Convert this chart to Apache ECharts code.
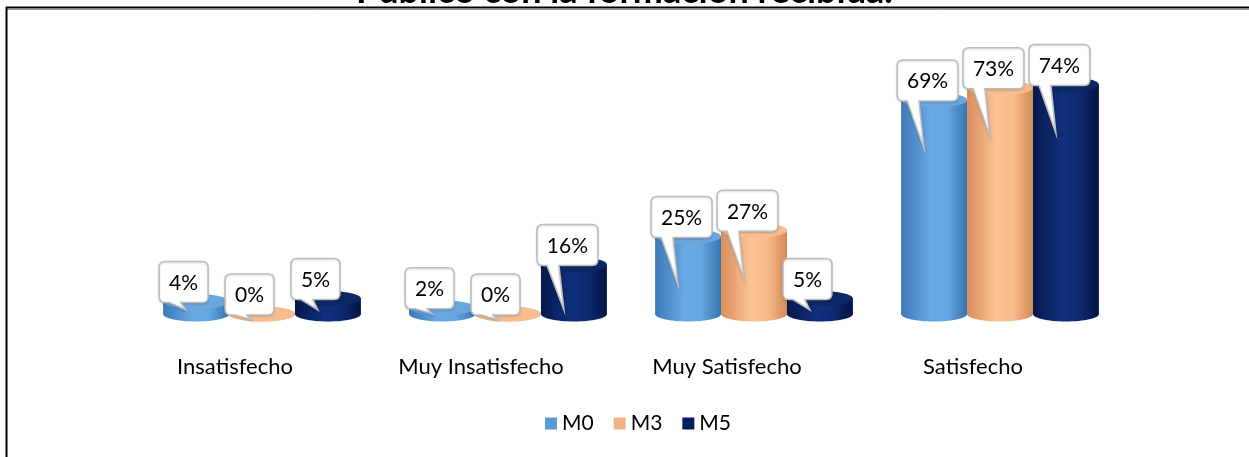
<!DOCTYPE html>
<html>
<head>
<meta charset="utf-8">
<script src="https://cdn.jsdelivr.net/npm/echarts@6/dist/echarts.min.js"></script>
<style>html,body{margin:0;padding:0;background:#fff}#c{width:1249px;height:457px}</style>
</head>
<body>
<div id="c"></div>
<script>
var titleText = 'Público con la formación recibida.';
var categories = ['Insatisfecho', 'Muy Insatisfecho', 'Muy Satisfecho', 'Satisfecho'];
var seriesNames = ['M0', 'M3', 'M5'];
var m0 = [4, 2, 25, 69];
var m3 = [0, 0, 27, 73];
var m5 = [5, 16, 5, 74];

var FONT = 'Lato, "Open Sans", sans-serif';
var palettes = [
  {legend: '#5B9BD5', top: '#6AA6DC', stops: ['#3C79B8', '#69A9E3', '#62A6E2', '#3A74B0']},
  {legend: '#F4B183', top: '#F7BD90', stops: ['#D98E5A', '#FBC396', '#F8BA8A', '#D38A58']},
  {legend: '#002060', top: '#0C2864', stops: ['#05184C', '#10307C', '#0C2A70', '#031445']}
];

var measureCtx = document.createElement('canvas').getContext('2d');
function textWidth(t, font) { measureCtx.font = font; return measureCtx.measureText(t).width; }

function calloutPath(l, t, w, h, r, b1, b2, tx, ty) {
  var R = l + w, B = t + h;
  return 'M' + (l + r) + ' ' + t + ' H' + (R - r) + ' Q' + R + ' ' + t + ' ' + R + ' ' + (t + r) +
    ' V' + (B - r) + ' Q' + R + ' ' + B + ' ' + (R - r) + ' ' + B +
    ' H' + b2 + ' L' + tx + ' ' + ty + ' L' + b1 + ' ' + B +
    ' H' + (l + r) + ' Q' + l + ' ' + B + ' ' + l + ' ' + (B - r) +
    ' V' + (t + r) + ' Q' + l + ' ' + t + ' ' + (l + r) + ' ' + t + ' Z';
}

function makeRender(si) {
  var pal = palettes[si];
  return function (params, api) {
    var cat = api.value(0), val = api.value(1);
    var base = api.coord([cat, 0]);
    var top = api.coord([cat, val]);
    var band = api.size([1, 0])[0];
    var bw = band * 0.268;
    var cx = base[0] + (si - 1) * bw;
    var x0 = cx - bw / 2;
    var ry = 7.5;
    var grad = new echarts.graphic.LinearGradient(0, 0, 1, 0, [
      {offset: 0, color: pal.stops[0]}, {offset: 0.45, color: pal.stops[1]},
      {offset: 0.7, color: pal.stops[2]}, {offset: 1, color: pal.stops[3]}
    ]);
    var children = [
      {type: 'ellipse', shape: {cx: cx, cy: base[1], rx: bw / 2, ry: ry}, style: {fill: grad}},
      {type: 'rect', shape: {x: x0, y: top[1], width: bw, height: base[1] - top[1]}, style: {fill: grad}},
      {type: 'ellipse', shape: {cx: cx, cy: top[1], rx: bw / 2, ry: ry}, style: {fill: pal.top}}
    ];
    // callout label
    var txt = Math.round(val) + '%';
    var font = '21px ' + FONT;
    var w = Math.round(textWidth(txt, font) + 20);
    var h = 41;
    var l = x0 - 4;
    var B = top[1] + 1;
    if (B > base[1] + 4) B = base[1] + 4;
    var t = B - h;
    var ty = Math.min(B + 48, base[1] - 4);
    if (ty < B + 5) ty = B + 5;
    var tx = x0 + 23;
    children.push({
      type: 'path',
      shape: {pathData: calloutPath(l, t, w, h, 6, l + 10, l + 22, tx, ty)},
      style: {fill: '#ffffff', stroke: '#BDBDBD', lineWidth: 1.5, shadowBlur: 2, shadowColor: 'rgba(0,0,0,0.15)', shadowOffsetY: 1}
    });
    children.push({
      type: 'text',
      style: {text: txt, x: l + w / 2, y: t + h / 2 + 1, align: 'center', verticalAlign: 'middle', font: font, fill: '#000'}
    });
    return {type: 'group', children: children};
  };
}

var datasets = [m0, m3, m5];
var series = seriesNames.map(function (name, si) {
  return {
    name: name,
    type: 'custom',
    renderItem: makeRender(si),
    encode: {x: 0, y: 1},
    itemStyle: {color: palettes[si].legend},
    data: datasets[si].map(function (v, i) { return [i, v]; }),
    z: 2 + si
  };
});

var chart = echarts.init(document.getElementById('c'));
chart.setOption({
  animation: false,
  title: {
    text: titleText, left: 'center', top: -32,
    textStyle: {fontFamily: FONT, fontWeight: 'bold', fontSize: 36, color: '#000'}
  },
  grid: {left: 139, right: 126, top: 4, bottom: 143},
  xAxis: {
    type: 'category', data: categories,
    axisLine: {show: false}, axisTick: {show: false},
    axisLabel: {margin: 42, fontFamily: FONT, fontSize: 22, color: '#000', padding: [0, 54, 0, 0]}
  },
  yAxis: {type: 'value', min: 0, max: 100, show: false},
  legend: {
    data: seriesNames, bottom: 18, left: 540, icon: 'rect',
    itemWidth: 12, itemHeight: 12, itemGap: 20,
    textStyle: {fontFamily: FONT, fontSize: 21, color: '#000'}
  },
  graphic: [
    {type: 'line', shape: {x1: 6, y1: 7.5, x2: 1249, y2: 7.5}, style: {stroke: '#000', lineWidth: 2}, z: 100},
    {type: 'line', shape: {x1: 7, y1: 9.5, x2: 1249, y2: 9.5}, style: {stroke: '#999', lineWidth: 1}, z: 100},
    {type: 'line', shape: {x1: 6.5, y1: 7, x2: 6.5, y2: 457}, style: {stroke: '#000', lineWidth: 2}, z: 100}
  ],
  series: series
});
</script>
</body>
</html>
